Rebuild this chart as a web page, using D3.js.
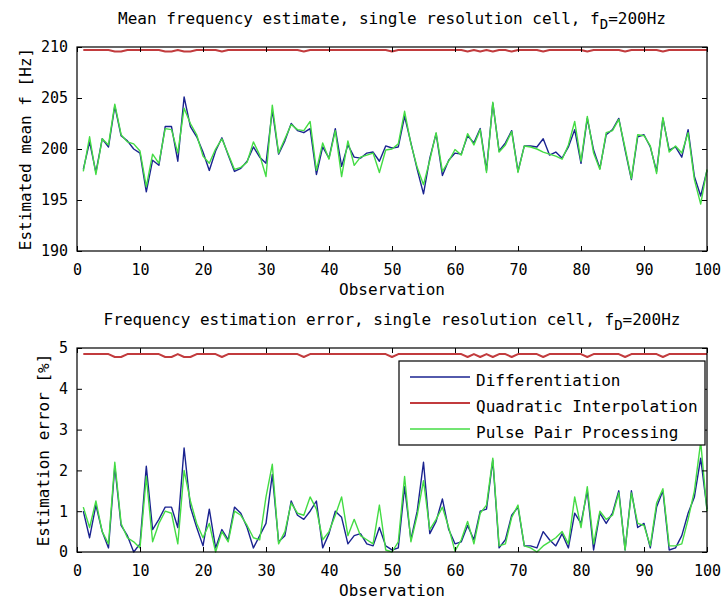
<!DOCTYPE html>
<html><head><meta charset="utf-8">
<script src="https://cdn.jsdelivr.net/npm/d3@7/dist/d3.min.js"></script>
<style>
body{margin:0;background:#fff}
text{font-family:"DejaVu Sans Mono",monospace;fill:#000}
</style>
</head><body>
<svg id="c" width="722" height="605"></svg>
<script>
const observations = d3.range(1, 101);
const xTicks = [0,10,20,30,40,50,60,70,80,90,100];
const freqTicks = [190,195,200,205,210];
const errTicks = [0,1,2,3,4,5];
const seriesNames = ["Differentiation","Quadratic Interpolation","Pulse Pair Processing"];

const freqDiff = [198.0,200.7,197.7,201.0,200.2,204.2,201.3,200.8,200.0,199.6,
 195.8,198.9,198.4,202.2,202.2,198.8,205.1,202.2,201.2,199.7,
 197.9,199.8,201.1,199.4,197.8,198.1,198.8,200.2,199.2,198.6,
 203.8,199.5,200.8,202.5,201.8,201.6,202.0,197.5,200.2,199.1,
 202.0,198.3,200.4,199.2,199.1,199.6,199.7,198.8,200.3,200.1,
 200.2,203.2,200.6,198.0,195.6,199.1,201.5,197.4,198.9,199.6,
 199.5,201.3,200.6,202.0,197.9,204.5,199.8,200.6,201.8,197.8,
 200.3,200.3,200.2,201.0,199.4,199.7,199.1,200.2,201.9,198.6,
 203.0,199.9,198.1,201.4,201.9,203.0,199.9,197.0,201.2,201.4,
 200.2,197.8,203.0,199.9,200.2,199.2,201.9,197.3,195.4,197.9];

const freqQuad = [209.7,209.7,209.7,209.7,209.7,209.55,209.55,209.7,209.7,209.7,
 209.7,209.7,209.7,209.55,209.55,209.7,209.55,209.55,209.7,209.7,
 209.7,209.7,209.55,209.7,209.7,209.7,209.7,209.7,209.7,209.7,
 209.7,209.7,209.7,209.7,209.7,209.55,209.7,209.7,209.7,209.7,
 209.7,209.7,209.7,209.7,209.7,209.7,209.7,209.7,209.7,209.55,
 209.7,209.7,209.7,209.7,209.7,209.7,209.7,209.7,209.7,209.7,
 209.7,209.55,209.7,209.55,209.7,209.55,209.7,209.7,209.55,209.7,
 209.7,209.7,209.7,209.55,209.7,209.7,209.7,209.7,209.7,209.7,
 209.55,209.7,209.7,209.7,209.7,209.7,209.55,209.7,209.7,209.7,
 209.7,209.7,209.55,209.7,209.7,209.7,209.7,209.7,209.7,209.7];

const freqPulse = [197.8,201.2,197.5,201.0,200.4,204.4,201.4,200.7,200.5,199.8,
 196.3,199.5,198.6,202.0,201.9,199.6,204.0,202.5,201.4,199.3,
 198.6,200.0,201.0,199.5,198.0,198.2,198.7,200.7,199.4,197.3,
 204.3,199.6,201.0,202.4,201.9,201.8,202.7,197.9,200.6,199.0,
 201.8,197.3,200.8,198.4,199.2,199.4,199.6,197.7,199.9,200.0,
 200.5,203.7,200.5,198.2,196.5,198.9,201.6,197.8,198.8,199.95,
 199.4,201.5,200.4,201.9,197.7,204.6,199.7,200.4,201.7,197.7,
 200.3,200.2,200.0,199.7,199.5,199.3,199.0,200.4,202.7,198.8,
 203.2,199.6,198.0,201.6,201.8,202.9,200.1,197.1,201.4,201.3,
 200.3,197.6,203.1,199.7,200.3,199.6,201.6,197.0,194.6,198.0];

const errDiff = [1.0,0.35,1.15,0.5,0.1,2.1,0.65,0.4,0.0,0.2,
 2.1,0.55,0.8,1.1,1.1,0.6,2.55,1.1,0.6,0.15,
 1.05,0.1,0.55,0.3,1.1,0.95,0.6,0.1,0.4,0.7,
 1.9,0.25,0.4,1.25,0.9,0.8,1.0,1.25,0.1,0.45,
 1.0,0.85,0.2,0.4,0.45,0.2,0.15,0.6,0.15,0.05,
 0.1,1.6,0.3,1.0,2.2,0.45,0.75,1.3,0.55,0.2,
 0.25,0.65,0.3,1.0,1.05,2.25,0.1,0.3,0.9,1.1,
 0.15,0.15,0.1,0.5,0.3,0.15,0.45,0.1,0.95,0.7,
 1.5,0.05,0.95,0.7,0.95,1.5,0.05,1.5,0.6,0.7,
 0.1,1.1,1.5,0.05,0.1,0.4,0.95,1.35,2.3,1.05];

const errQuad = [4.85,4.85,4.85,4.85,4.85,4.78,4.78,4.85,4.85,4.85,
 4.85,4.85,4.85,4.78,4.78,4.85,4.78,4.78,4.85,4.85,
 4.85,4.85,4.78,4.85,4.85,4.85,4.85,4.85,4.85,4.85,
 4.85,4.85,4.85,4.85,4.85,4.78,4.85,4.85,4.85,4.85,
 4.85,4.85,4.85,4.85,4.85,4.85,4.85,4.85,4.85,4.78,
 4.85,4.85,4.85,4.85,4.85,4.85,4.85,4.85,4.85,4.85,
 4.85,4.78,4.85,4.78,4.85,4.78,4.85,4.85,4.78,4.85,
 4.85,4.85,4.85,4.78,4.85,4.85,4.85,4.85,4.85,4.85,
 4.78,4.85,4.85,4.85,4.85,4.85,4.78,4.85,4.85,4.85,
 4.85,4.85,4.78,4.85,4.85,4.85,4.85,4.85,4.85,4.85];

const errPulse = [1.1,0.6,1.25,0.5,0.2,2.2,0.7,0.35,0.25,0.1,
 1.85,0.25,0.7,1.0,0.95,0.2,2.0,1.25,0.7,0.35,
 0.7,0.0,0.5,0.25,1.0,0.9,0.65,0.35,0.3,1.35,
 2.15,0.2,0.5,1.2,0.95,0.9,1.35,1.05,0.3,0.5,
 0.9,1.35,0.4,0.8,0.4,0.3,0.2,1.15,0.05,0.0,
 0.25,1.85,0.25,0.9,1.75,0.55,0.8,1.1,0.6,0.02,
 0.3,0.75,0.2,0.95,1.15,2.3,0.15,0.2,0.85,1.15,
 0.15,0.1,0.0,0.15,0.25,0.35,0.5,0.2,1.35,0.6,
 1.6,0.2,1.0,0.8,0.9,1.45,0.05,1.45,0.7,0.65,
 0.15,1.2,1.55,0.15,0.15,0.2,0.8,1.5,2.7,1.0];

const colors = ["#1a2390", "#c23b3d", "#44dc44"];

const svg = d3.select("#c");
svg.append("rect").attr("width",722).attr("height",605).attr("fill","#fff");

const X0 = 77, X1 = 707;
const x = d3.scaleLinear().domain([0,100]).range([X0, X1]);

function panel(top, bottom, yDomain, yTicks, series, titleMain, ylabel, ylabelX, withLegend) {
  const y = d3.scaleLinear().domain(yDomain).range([bottom, top]);
  const g = svg.append("g");

  // lines: blue, red, green (green drawn last)
  const line = arr => d3.line().x((d,i) => x(observations[i])).y(d => y(d))(arr);
  series.forEach((arr, k) => {
    g.append("path").attr("d", line(arr)).attr("fill","none")
      .attr("stroke", colors[k]).attr("stroke-width", k===1 ? 2 : 1.4)
      .attr("stroke-linejoin","round");
  });

  const styleAxis = sel => {
    sel.select(".domain").remove();
    sel.selectAll("line").attr("stroke","#000");
    sel.selectAll("text").attr("font-size", 15).attr("font-family", '"DejaVu Sans Mono",monospace');
  };

  g.append("g").attr("transform",`translate(0,${bottom})`)
    .call(d3.axisBottom(x).tickValues(xTicks).tickSize(-5).tickPadding(13).tickFormat(d3.format("d")))
    .call(styleAxis);
  g.append("g").attr("transform",`translate(0,${top})`)
    .call(d3.axisTop(x).tickValues(xTicks).tickSize(-5).tickFormat(""))
    .call(styleAxis);
  g.append("g").attr("transform",`translate(${X0},0)`)
    .call(d3.axisLeft(y).tickValues(yTicks).tickSize(-5).tickPadding(9).tickFormat(d3.format("d")))
    .call(styleAxis);
  g.append("g").attr("transform",`translate(${X1},0)`)
    .call(d3.axisRight(y).tickValues(yTicks).tickSize(-5).tickFormat(""))
    .call(styleAxis);

  g.append("rect").attr("x",X0).attr("y",top).attr("width",X1-X0).attr("height",bottom-top)
    .attr("fill","none").attr("stroke","#000").attr("stroke-width",1.2);

  // title
  const t = g.append("text").attr("x",(X0+X1)/2).attr("y",top-23)
    .attr("text-anchor","middle").attr("font-size",16);
  t.append("tspan").text(titleMain + ", f");
  t.append("tspan").attr("dy",5).attr("font-size",14).text("D");
  t.append("tspan").attr("dy",-5).text("=200Hz");

  // xlabel
  g.append("text").attr("x",(X0+X1)/2).attr("y",bottom+44).attr("text-anchor","middle")
    .attr("font-size",16).text("Observation");

  // ylabel
  g.append("text").attr("transform",`translate(${ylabelX},${(top+bottom)/2}) rotate(-90)`)
    .attr("text-anchor","middle").attr("font-size",16).text(ylabel);

  if (withLegend) {
    const lx0 = 399, lx1 = 705, ly0 = 361, ly1 = 445;
    const lg = g.append("g");
    lg.append("rect").attr("x",lx0).attr("y",ly0).attr("width",lx1-lx0).attr("height",ly1-ly0)
      .attr("fill","#fff").attr("stroke","#000").attr("stroke-width",1.2);
    seriesNames.forEach((name,k) => {
      const cy = 377 + k*26;
      lg.append("line").attr("x1",410).attr("x2",470).attr("y1",cy).attr("y2",cy)
        .attr("stroke",colors[k]).attr("stroke-width", k===1 ? 2 : 1.4);
      lg.append("text").attr("x",476).attr("y",cy+9).attr("font-size",16).text(name);
    });
  }
}

panel(47, 251, [190,210], freqTicks, [freqDiff, freqQuad, freqPulse],
  "Mean frequency estimate, single resolution cell", "Estimated mean f [Hz]", 31, false);
panel(348, 552, [0,5], errTicks, [errDiff, errQuad, errPulse],
  "Frequency estimation error, single resolution cell", "Estimation error [%]", 49, true);
</script>
</body></html>
